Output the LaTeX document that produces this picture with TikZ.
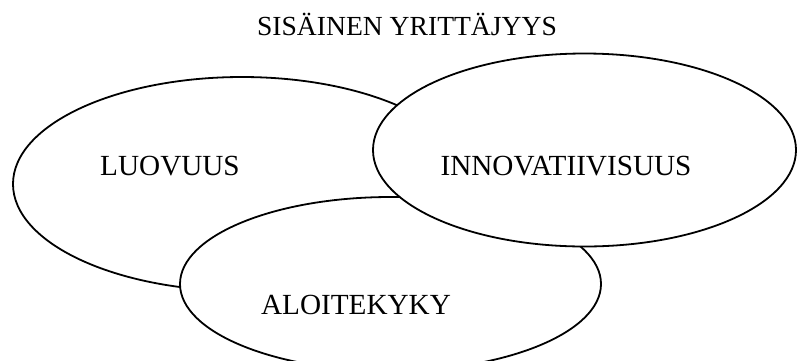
\documentclass[tikz,border=0pt]{standalone}
\usepackage{fontspec}
\setmainfont{Liberation Serif}
\usetikzlibrary{shapes.geometric}
\begin{document}
\begin{tikzpicture}[x=1pt,y=-1pt,
  bubble/.style={ellipse, draw=black, line width=1.8pt, fill=white, inner sep=0pt, outer sep=0pt},
  bubbletext/.style={anchor=base, inner sep=0pt, font=\fontsize{29.2}{35}\selectfont},
  titletext/.style={anchor=base, inner sep=0pt, font=\fontsize{27.6}{33}\selectfont}]
  \useasboundingbox (0,0) rectangle (797,360);
  \clip (0,0) rectangle (797,360);
  % three overlapping ellipses, back to front
  \node[bubble, minimum width=458pt, minimum height=214pt] (luovuus) at (242,184) {};
  \node[bubble, minimum width=421pt, minimum height=174pt] (aloite) at (390.5,284) {};
  \node[bubble, minimum width=423pt, minimum height=193pt] (innov) at (584.5,150) {};
  % labels
  \node[titletext] (title) at (407,35) {SISÄINEN YRITTÄJYYS};
  \node[bubbletext] (tluovuus) at (170,175) {LUOVUUS};
  \node[bubbletext] (tinnov) at (566,175) {INNOVATIIVISUUS};
  \node[bubbletext] (taloite) at (356,314) {ALOITEKYKY};
\end{tikzpicture}
\end{document}
